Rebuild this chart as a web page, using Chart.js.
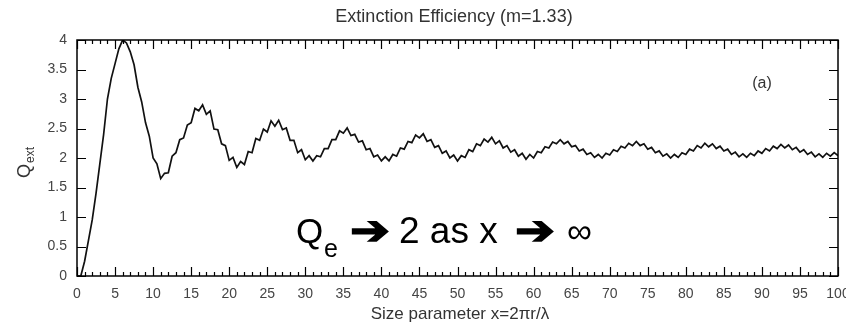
<!DOCTYPE html>
<html>
<head>
<meta charset="utf-8">
<script src="https://cdn.jsdelivr.net/npm/chart.js@4"></script>
<style>
  html, body { margin: 0; padding: 0; background: #fff; }
  #wrap { width: 846px; height: 326px; }
</style>
</head>
<body>
<div id="wrap"><canvas id="qext-chart" width="846" height="326"></canvas></div>
<script>
// Size parameter grid, step 0.5 from 0 to 100
const xStep = 0.5;

// Q_ext at every half step of x
const qExt = [
  0, 0, 0.25, 0.6, 0.95, 1.4, 1.9, 2.4, 3.0, 3.35,            // 0 - 4.5
  3.6, 3.85, 4.0, 3.95, 3.8, 3.58, 3.2, 2.95, 2.6, 2.37,      // 5 - 9.5
  2.0, 1.9, 1.65, 1.74, 1.75, 2.03, 2.09, 2.31, 2.34, 2.56,   // 10 - 14.5
  2.6, 2.84, 2.8, 2.9, 2.74, 2.8, 2.49, 2.48, 2.24, 2.21,     // 15 - 19.5
  1.96, 2.01, 1.84, 1.94, 1.89, 2.11, 2.09, 2.33, 2.3, 2.49,  // 20 - 24.5
  2.44, 2.63, 2.54, 2.64, 2.48, 2.51, 2.3, 2.3, 2.09, 2.14,   // 25 - 29.5
  1.97, 2.04, 1.95, 2.04, 2.02, 2.16, 2.16, 2.31, 2.31, 2.46, // 30 - 34.5
  2.42, 2.51, 2.38, 2.4, 2.27, 2.29, 2.14, 2.16, 2.02, 2.05,  // 35 - 39.5
  1.95, 2.02, 1.95, 2.06, 2.03, 2.17, 2.15, 2.28, 2.26, 2.39, // 40 - 44.5
  2.34, 2.41, 2.28, 2.31, 2.18, 2.21, 2.08, 2.12, 2.0, 2.05,  // 45 - 49.5
  1.95, 2.04, 2.01, 2.14, 2.11, 2.24, 2.21, 2.32, 2.27, 2.35, // 50 - 54.5
  2.24, 2.29, 2.17, 2.21, 2.1, 2.14, 2.03, 2.08, 1.98, 2.06,  // 55 - 59.5
  2.0, 2.11, 2.09, 2.19, 2.17, 2.27, 2.24, 2.31, 2.24, 2.28,  // 60 - 64.5
  2.19, 2.21, 2.12, 2.15, 2.06, 2.09, 2.01, 2.06, 2.0, 2.08,  // 65 - 69.5
  2.05, 2.14, 2.11, 2.2, 2.17, 2.25, 2.21, 2.28, 2.21, 2.24,  // 70 - 74.5
  2.15, 2.18, 2.09, 2.12, 2.03, 2.07, 2.0, 2.06, 2.01, 2.09,  // 75 - 79.5
  2.06, 2.15, 2.12, 2.21, 2.17, 2.25, 2.19, 2.24, 2.16, 2.2,  // 80 - 84.5
  2.12, 2.15, 2.06, 2.1, 2.02, 2.07, 2.01, 2.08, 2.04, 2.12,  // 85 - 89.5
  2.08, 2.16, 2.12, 2.2, 2.16, 2.23, 2.17, 2.22, 2.14, 2.18,  // 90 - 94.5
  2.1, 2.14, 2.06, 2.1, 2.02, 2.07, 2.01, 2.08, 2.03, 2.09,   // 95 - 99.5
  2.04                                                         // 100
];

const xTicks = [0, 5, 10, 15, 20, 25, 30, 35, 40, 45, 50, 55, 60, 65, 70, 75, 80, 85, 90, 95, 100];
const yTicks = [0, 0.5, 1, 1.5, 2, 2.5, 3, 3.5, 4];

const chartTitle = 'Extinction Efficiency (m=1.33)';
const xTitle = 'Size parameter x=2\u03c0r/\u03bb';
const panelTag = '(a)';

const points = qExt.map((q, i) => ({ x: i * xStep, y: q }));

const FONT = '"Liberation Sans", Arial, Helvetica, sans-serif';

// heavy arrow glyph, stretched a bit to the width seen in the picture
function arrowText(ctx, x, y, w) {
    ctx.save();
    ctx.font = 'bold 40px "DejaVu Sans", sans-serif';
    const mw = ctx.measureText('\u2794').width;
    ctx.translate(x, y);
    ctx.scale(w / mw, 1);
    ctx.fillText('\u2794', 0, 0);
    ctx.lineWidth = 1.5;
    ctx.strokeText('\u2794', 0, 0);
    ctx.restore();
}

// frame, inward ticks and all the extra text
const decorations = {
    id: 'decorations',
    afterDraw(chart) {
        const ctx = chart.ctx;
        const { left, right, top, bottom } = chart.chartArea;
        const xs = chart.scales.x;
        const ys = chart.scales.y;
        ctx.save();
        ctx.strokeStyle = '#000';
        ctx.lineWidth = 1.5;
        ctx.strokeRect(left, top, right - left, bottom - top);

        ctx.lineWidth = 1.2;
        ctx.beginPath();
        for (let v = 0; v <= 100; v++) {
            const px = Math.round(xs.getPixelForValue(v)) + 0.5;
            const len = v % 5 === 0 ? 9 : 4;
            ctx.moveTo(px, bottom); ctx.lineTo(px, bottom - len);
            ctx.moveTo(px, top); ctx.lineTo(px, top + len);
        }
        yTicks.forEach(v => {
            const py = Math.round(ys.getPixelForValue(v)) + 0.5;
            ctx.moveTo(left, py); ctx.lineTo(left + 9, py);
            ctx.moveTo(right, py); ctx.lineTo(right - 9, py);
        });
        ctx.stroke();

        // title
        ctx.fillStyle = '#333';
        ctx.textAlign = 'center';
        ctx.textBaseline = 'middle';
        ctx.font = '18px ' + FONT;
        ctx.fillText(chartTitle, 454, 17);

        // x axis title
        ctx.font = '17px ' + FONT;
        ctx.fillText(xTitle, 460, 314);

        // panel tag
        ctx.font = '16px ' + FONT;
        ctx.fillText(panelTag, 762, 84);

        // y axis title Q_ext, rotated
        ctx.save();
        ctx.translate(30, 178);
        ctx.rotate(-Math.PI / 2);
        ctx.textAlign = 'left';
        ctx.textBaseline = 'alphabetic';
        ctx.font = '18px ' + FONT;
        ctx.fillText('Q', 0, 0);
        const qw = ctx.measureText('Q').width;
        ctx.font = '12px ' + FONT;
        ctx.fillText('ext', qw + 1, 4);
        ctx.restore();

        // big statement
        ctx.fillStyle = '#000';
        ctx.strokeStyle = '#000';
        ctx.textAlign = 'left';
        ctx.textBaseline = 'alphabetic';
        const base = 243;
        ctx.font = '35px ' + FONT;
        ctx.fillText('Q', 296, base);
        ctx.font = '25px ' + FONT;
        ctx.fillText('e', 324, base + 14);
        arrowText(ctx, 350, base + 1, 40);
        ctx.font = '37px ' + FONT;
        ctx.fillText('2 as x', 399, base);
        arrowText(ctx, 515, base + 1, 40);
        ctx.font = '35px ' + FONT;
        ctx.fillText('\u221e', 567, base);
        ctx.restore();
    }
};

const ctx = document.getElementById('qext-chart').getContext('2d');
const qextChart = new Chart(ctx, {
    type: 'line',
    data: {
        datasets: [{
            label: 'Q_ext',
            data: points,
            borderColor: '#111',
            borderWidth: 1.7,
            pointRadius: 0,
            tension: 0,
            fill: false
        }]
    },
    options: {
        responsive: false,
        animation: false,
        layout: { padding: { top: 40, right: 8, left: 0, bottom: 0 } },
        plugins: {
            legend: { display: false },
            title: { display: false },
            tooltip: { enabled: false }
        },
        scales: {
            x: {
                type: 'linear',
                min: 0,
                max: 100,
                grid: { display: false },
                border: { display: false },
                afterBuildTicks: s => { s.ticks = xTicks.map(v => ({ value: v })); },
                ticks: {
                    color: '#444',
                    font: { family: FONT, size: 14 },
                    padding: 2,
                    maxRotation: 0,
                    autoSkip: false,
                    callback: v => String(v)
                },
                afterFit: s => { s.height = 50; s.paddingLeft = 0; s.paddingRight = 0; }
            },
            y: {
                min: 0,
                max: 4,
                grid: { display: false },
                border: { display: false },
                afterBuildTicks: s => { s.ticks = yTicks.map(v => ({ value: v })); },
                ticks: {
                    color: '#444',
                    font: { family: FONT, size: 14 },
                    padding: 2,
                    callback: v => String(v)
                },
                afterFit: s => { s.width = 77; s.paddingTop = 0; s.paddingBottom = 0; }
            }
        }
    },
    plugins: [decorations]
});
</script>
</body>
</html>
